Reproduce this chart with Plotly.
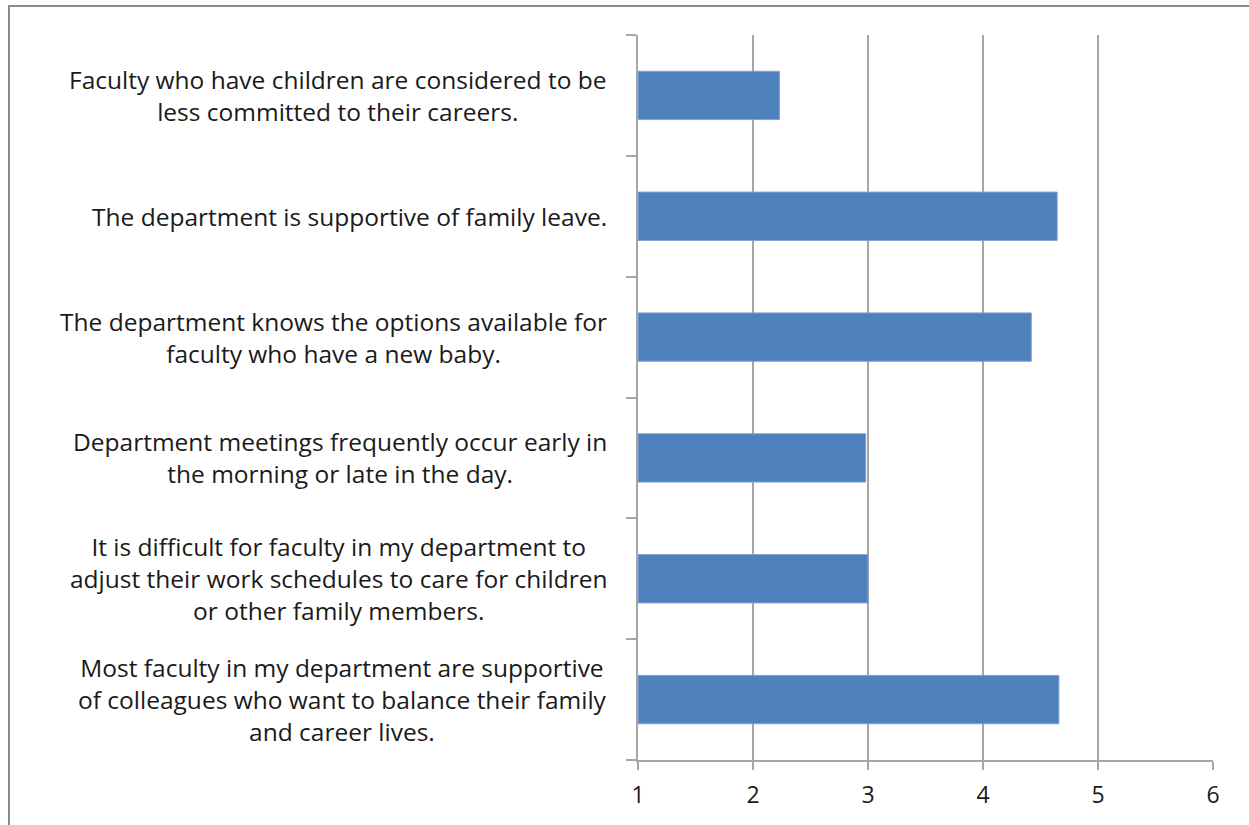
import plotly.graph_objects as go

# Survey statements (top to bottom) and their mean agreement scores
statements = [
    "Faculty who have children are considered to be<br>less committed to their careers.",
    "The department is supportive of family leave.",
    "The department knows the options available for<br>faculty who have a new baby.",
    "Department meetings frequently occur early in<br>the morning or late in the day.",
    "It is difficult for faculty in my department to<br>adjust their work schedules to care for children<br>or other family members.",
    "Most faculty in my department are supportive<br>of colleagues who want to balance their family<br>and career lives.",
]
scores = [2.23, 4.645, 4.42, 2.98, 3.0, 4.66]
x_ticks = [1, 2, 3, 4, 5, 6]
axis_min = 1

W, H = 1249, 825
L, R, T, B = 638, 36, 35, 65
pw, ph = W - L - R, H - T - B

def px_x(p):
    return (p - L) / pw

def px_y(p):
    return (H - B - p) / ph

fig = go.Figure(
    go.Bar(
        x=[s - axis_min for s in scores],
        y=statements,
        base=axis_min,
        orientation="h",
        marker=dict(color="#4f81bd", line=dict(color="#7ea3d1", width=1)),
        hoverinfo="skip",
    )
)

font_family = "'Open Sans', Lato, sans-serif"

for s in statements:
    fig.add_annotation(
        x=px_x(609), xref="paper", xanchor="right",
        y=s, yref="y", yanchor="middle",
        text=s, showarrow=False, align="center",
        font=dict(family=font_family, size=24.5, color="#1a1a1a"),
    )

# outer chart frame
fig.add_shape(
    type="rect", xref="paper", yref="paper",
    x0=px_x(9), x1=px_x(1265), y0=px_y(840), y1=px_y(6),
    line=dict(color="#8a8a8a", width=2), layer="below",
)

fig.update_layout(
    width=W, height=H,
    margin=dict(l=L, r=R, t=T, b=B),
    paper_bgcolor="white", plot_bgcolor="white",
    bargap=0.6, showlegend=False,
    font=dict(family=font_family, color="#1a1a1a"),
    xaxis=dict(
        range=[1, 6], tickvals=x_ticks, showgrid=True,
        gridcolor="#a6a6a6", gridwidth=1.5,
        showline=True, linecolor="#a6a6a6", linewidth=1.5,
        ticks="outside", ticklen=8, tickcolor="#a6a6a6", tickwidth=1.5,
        ticklabelstandoff=6,
        tickfont=dict(size=23, color="#1a1a1a"), zeroline=False,
    ),
    yaxis=dict(
        categoryorder="array", categoryarray=statements[::-1],
        showticklabels=False, showgrid=False,
        showline=True, linecolor="#a6a6a6", linewidth=1.5,
        ticks="outside", ticklen=10, tickcolor="#a6a6a6", tickwidth=1.5,
        tickson="boundaries",
    ),
)

fig.write_html("out.html")
